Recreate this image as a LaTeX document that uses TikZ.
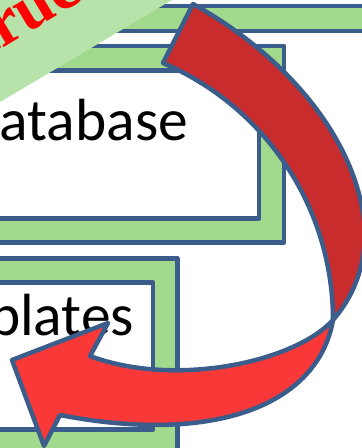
\documentclass[tikz,border=0pt]{standalone}
\usepackage{fontspec}
\setmainfont{Carlito}
\newfontfamily\bannerfont{Liberation Serif}
\definecolor{edge}{HTML}{3A5D8B}
\definecolor{fgreen}{HTML}{A1DA8C}
\definecolor{bgreen}{HTML}{B7E3AA}
\definecolor{darkred}{HTML}{C92C2C}
\definecolor{brightred}{HTML}{FB3838}
\begin{document}
\begin{tikzpicture}[x=1pt,y=-1pt,
  frameout/.style={draw=edge,line width=4.5pt,fill=fgreen,line join=round},
  framein/.style={draw=edge,line width=4.5pt,fill=white,line join=round},
  label/.style={anchor=base west,inner sep=0pt,font=\fontsize{59.5}{62}\selectfont},
  outline/.style={draw=edge,line width=4.5pt,line join=round}]
\useasboundingbox (0,0) rectangle (362,448);
% frames
\draw[frameout] (-100,6) rectangle (520,640);
\draw[framein] (-80,31) rectangle (500,620);
\draw[frameout] (-100,46) rectangle (284,242.5);
\draw[framein] (-80,70.5) rectangle (259,218.5);
\draw[frameout] (-100,258.5) rectangle (177.5,455);
\draw[framein] (-80,282.5) rectangle (153,429.5);
% labels
\node[label] (db) at (-37,140) {Database};
\node[label] (tp) at (-112,335) {Templates};
% banner
\fill[bgreen] (-60,137.6) -- (232,-35.6) -- (-60,-35.6) -- cycle;
\node[anchor=base,inner sep=0pt,rotate=31,text=red,font=\bannerfont\bfseries\fontsize{66}{70}\selectfont] (ban) at (20,38) {Construction};
% arrow
\coordinate (T1) at (193,4);
\coordinate (T2) at (163,63);
\coordinate (R) at (365,230);
\coordinate (X) at (333,320);
\coordinate (N1) at (90,356);
\coordinate (B1) at (108,323);
\coordinate (tip) at (12,360);
\coordinate (B2) at (44,446);
\coordinate (N2) at (60,415);
\fill[darkred] (T1) .. controls (285,55) and (359,140) .. (R)
  .. controls (365,270) and (352,298) .. (X)
  .. controls (333,208) and (266,107) .. (T2) -- cycle;
\fill[brightred] (X) .. controls (295,362) and (175,388) .. (N1)
  -- (B1) -- (tip) -- (B2) -- (N2)
  .. controls (215,445) and (318,405) .. (X) -- cycle;
\draw[outline] (T1) .. controls (285,55) and (359,140) .. (R)
  .. controls (365,270) and (352,298) .. (X)
  .. controls (295,362) and (175,388) .. (N1)
  -- (B1) -- (tip) -- (B2) -- (N2)
  .. controls (215,445) and (318,405) .. (X)
  .. controls (333,208) and (266,107) .. (T2) -- cycle;
\end{tikzpicture}
\end{document}
